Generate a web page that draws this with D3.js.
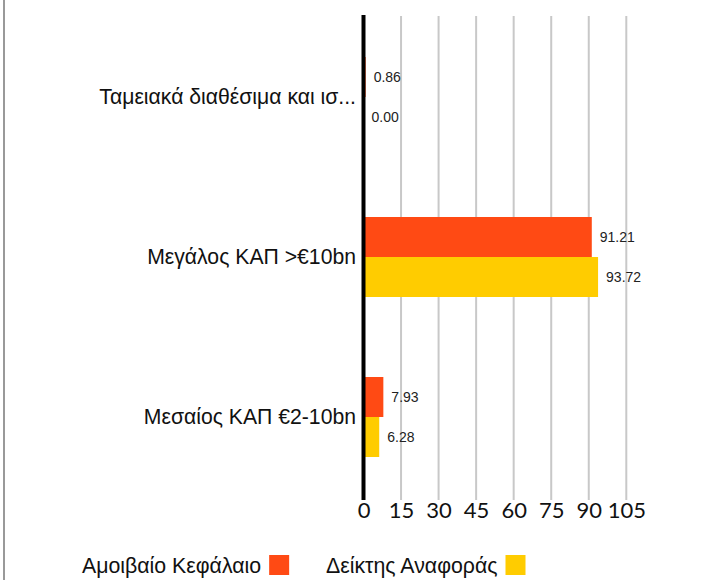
<!DOCTYPE html>
<meta charset="utf-8">
<style>
body { margin: 0; background: #fff; }
.cat { font: 21.2px "Liberation Sans", Arial, sans-serif; fill: #111; }
.val { font: 14px "Liberation Sans", Arial, sans-serif; fill: #222; }
.axis text { font: 22px Lato, sans-serif; fill: #111; }
.legend text { font: 21.3px "Liberation Sans", Arial, sans-serif; fill: #111; }
</style>
<body>
<div id="chart"></div>
<script src="https://d3js.org/d3.v7.min.js"></script>
<script>
var categories = ["Ταμειακά διαθέσιμα και ισ...", "Μεγάλος ΚΑΠ >€10bn", "Μεσαίος ΚΑΠ €2-10bn"];
var seriesNames = ["Αμοιβαίο Κεφάλαιο", "Δείκτης Αναφοράς"];
var fundValues = [0.86, 91.21, 7.93];
var benchValues = [0.00, 93.72, 6.28];
var tickValues = [0, 15, 30, 45, 60, 75, 90, 105];
var colors = ["#ff4a14", "#ffcc00"];

var width = 710, height = 580;
var svg = d3.select("#chart").append("svg").attr("width", width).attr("height", height);

// left border of the container
svg.append("line").attr("x1", 4).attr("x2", 4).attr("y1", 0).attr("y2", height)
  .attr("stroke", "#999").attr("stroke-width", 2);

var data = categories.map(function(c, i) {
  return { cat: c, values: [fundValues[i], benchValues[i]] };
});

var x = d3.scaleLinear().domain([0, 105]).range([363.5, 626.3]);
var y = d3.scaleBand().domain(categories).range([17, 497]).paddingInner(0.5).paddingOuter(0.25);
var ys = d3.scaleBand().domain(seriesNames).range([0, y.bandwidth()]);

// gridlines
svg.append("g").selectAll("line")
  .data(tickValues.filter(function(t) { return t > 0; }))
  .enter().append("line")
  .attr("x1", function(d) { return x(d); }).attr("x2", function(d) { return x(d); })
  .attr("y1", 16).attr("y2", 500)
  .attr("stroke", "#c8c8c8").attr("stroke-width", 2);

// bars
var groups = svg.append("g").selectAll("g").data(data).enter().append("g")
  .attr("transform", function(d) { return "translate(0," + y(d.cat) + ")"; });

groups.selectAll("rect")
  .data(function(d) { return d.values.map(function(v, i) { return { v: v, s: seriesNames[i], i: i }; }); })
  .enter().append("rect")
  .attr("x", x(0))
  .attr("y", function(d) { return ys(d.s); })
  .attr("width", function(d) { return x(d.v) - x(0); })
  .attr("height", ys.bandwidth())
  .attr("fill", function(d) { return colors[d.i]; });

groups.selectAll("text")
  .data(function(d) { return d.values.map(function(v, i) { return { v: v, s: seriesNames[i] }; }); })
  .enter().append("text")
  .attr("class", "val")
  .attr("x", function(d) { return x(d.v) + 8; })
  .attr("y", function(d) { return ys(d.s) + ys.bandwidth() / 2; })
  .attr("dy", "0.35em")
  .text(function(d) { return d.v.toFixed(2); });

// category labels
svg.append("g").selectAll("text").data(categories).enter().append("text")
  .attr("class", "cat")
  .attr("x", 356)
  .attr("y", function(d) { return y(d) + y.bandwidth() / 2; })
  .attr("dy", "0.35em")
  .attr("text-anchor", "end")
  .text(function(d) { return d; });

// zero axis line
svg.append("line").attr("x1", x(0)).attr("x2", x(0)).attr("y1", 15).attr("y2", 500)
  .attr("stroke", "#000").attr("stroke-width", 4);

// x axis labels
var xAxis = svg.append("g").attr("class", "axis").attr("transform", "translate(0,500)")
  .call(d3.axisBottom(x).tickValues(tickValues).tickSize(0).tickPadding(2));
xAxis.select(".domain").remove();

// legend
var legend = svg.append("g").attr("class", "legend");
var legX = [82, 326];
seriesNames.forEach(function(name, i) {
  var t = legend.append("text").attr("x", legX[i]).attr("y", 566).attr("dy", "0.35em").text(name);
  var w = t.node().getComputedTextLength();
  legend.append("rect").attr("x", legX[i] + w + 8).attr("y", 555).attr("width", 20).attr("height", 20)
    .attr("fill", colors[i]);
});
</script>
</body>
